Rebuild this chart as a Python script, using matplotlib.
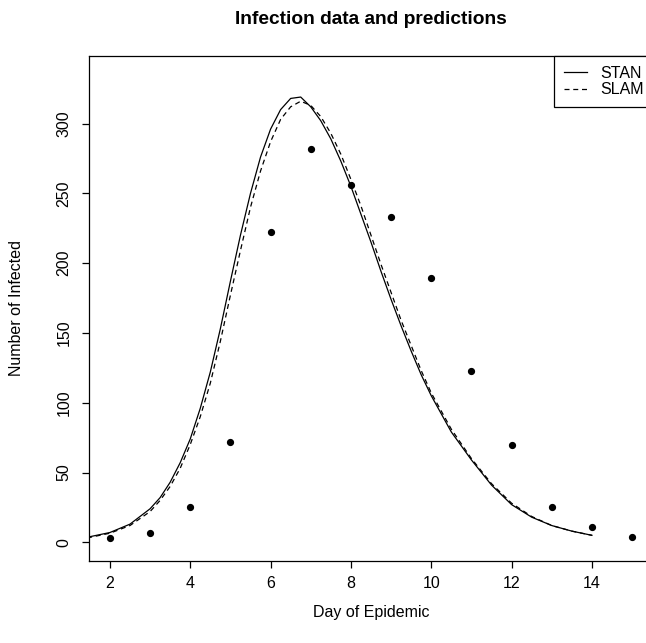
import numpy as np
import matplotlib.pyplot as plt

plt.rcParams['font.family'] = ['Liberation Sans', 'DejaVu Sans']

# observed infections by day
days = [2, 3, 4, 5, 6, 7, 8, 9, 10, 11, 12, 13, 14, 15]
infected = [3, 7, 25, 72, 222, 282, 256, 233, 189, 123, 70, 25, 11, 4]

# model predictions
pred_days = [1.0, 1.5, 2.0, 2.5, 3.0, 3.25, 3.5, 3.75, 4.0, 4.25, 4.5, 4.75,
             5.0, 5.25, 5.5, 5.75, 6.0, 6.25, 6.5, 6.75, 7.0, 7.25, 7.5, 7.75,
             8.0, 8.25, 8.5, 8.75, 9.0, 9.25, 9.5, 9.75, 10.0, 10.5, 11.0,
             11.5, 12.0, 12.5, 13.0, 13.5, 14.0]
stan = [2, 4, 7, 13, 24, 32, 43, 57, 74, 96, 122, 153,
        187, 220, 250, 276, 296, 310, 318, 319, 312, 302, 289, 273,
        255, 235, 215, 194, 174, 155, 137, 120, 105, 79, 59,
        41, 27, 18, 12, 8, 5]
slam = [2, 3.5, 6.5, 12, 22, 30, 40, 53, 70, 90, 114, 144,
        177, 209, 240, 266, 287, 303, 312, 316, 313, 305, 293, 278,
        260, 241, 220, 199, 179, 159, 141, 123, 107, 81, 60,
        42, 28, 18.5, 12, 8, 5]

fig = plt.figure(figsize=(6.46, 6.43), dpi=100)
ax = fig.add_axes([89 / 646, 1 - 561 / 643, (653 - 89) / 646, (561 - 56) / 643])

ax.plot(pred_days, stan, color='black', lw=0.9, label='STAN')
ax.plot(pred_days, slam, color='black', lw=0.9, dashes=(4, 3), label='SLAM')
ax.plot(days, infected, 'o', color='black', ms=4.2, ls='none')

ax.set_xlim(1.48, 15.52)
ax.set_ylim(-13.4, 348.4)
ax.set_xticks(range(2, 15, 2))
ax.set_yticks(range(0, 301, 50))

for s in ax.spines.values():
    s.set_linewidth(0.9)
ax.tick_params(direction='out', length=5, width=0.9, labelsize=11.5)
ax.tick_params(axis='x', pad=6)
ax.tick_params(axis='y', pad=7.5)
for t in ax.get_yticklabels():
    t.set_rotation(90)
    t.set_va('center')

ax.set_xlabel('Day of Epidemic', fontsize=11.5, va='center')
ax.xaxis.set_label_coords(0.5, (561 - 613) / 505)
ax.set_ylabel('Number of Infected', fontsize=11.5, va='center')
ax.yaxis.set_label_coords((16 - 89) / 564, 0.5)
ax.set_title('Infection data and predictions', fontsize=13.8, fontweight='bold',
             y=1 + 37 / 505, pad=0, va='center')

leg = ax.legend(loc='upper right', bbox_to_anchor=(1, 1), borderaxespad=0,
                fontsize=11.5, fancybox=False, framealpha=1, edgecolor='black',
                handlelength=1.44, handletextpad=0.8, borderpad=0.6,
                labelspacing=0.1)
leg.get_frame().set_linewidth(0.9)

fig.savefig('out.png', dpi=100)
